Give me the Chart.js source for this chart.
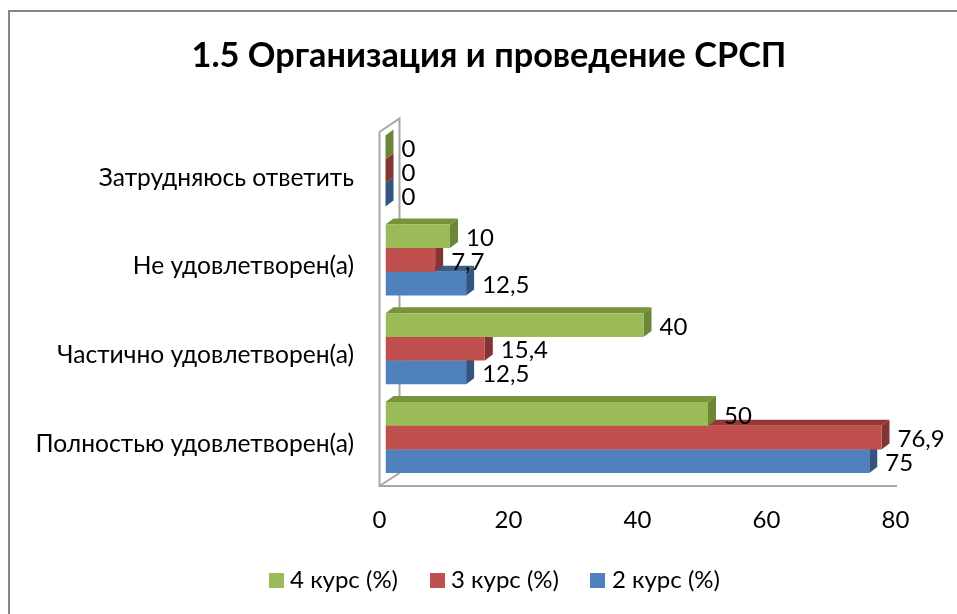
<!DOCTYPE html>
<html><head><meta charset="utf-8">
<style>html,body{margin:0;padding:0;background:#fff;overflow:hidden}canvas{display:block}</style>
<script src="https://cdn.jsdelivr.net/npm/chart.js@4"></script>
</head><body><canvas id="c" width="957" height="614"></canvas>
<script>
const categories = ['Затрудняюсь ответить','Не удовлетворен(а)','Частично удовлетворен(а)','Полностью удовлетворен(а)'];
const seriesNames = ['4 курс (%)','3 курс (%)','2 курс (%)'];
const course4 = [0,10,40,50];
const course3 = [0,7.7,15.4,76.9];
const course2 = [0,12.5,12.5,75];
const xTicks = [0,20,40,60,80];
const titleText = '1.5 Организация и проведение СРСП';
const colors = ['#9BBB59','#C0504D','#4F81BD'];
const tops = ['#77933C','#953735','#385D8A'];
const sides = ['#6C8638','#843432','#33557F'];
const FONT = 'Lato, Carlito, sans-serif';
const DX = 8, DY = -6;

const swatches = colors.map(c=>{
  const s = document.createElement('canvas'); s.width = 15; s.height = 15;
  const g = s.getContext('2d'); g.fillStyle = c; g.fillRect(0,0,15,15);
  return s;
});

const depth3d = {
  id:'depth3d',
  beforeDatasetsDraw(chart){
    const {ctx} = chart, x0 = chart.scales.x.getPixelForValue(0);
    const fx = x0-6, bx = x0+14, fb = 486, bb = 473;
    ctx.save();
    ctx.strokeStyle = '#A6A6A6'; ctx.lineWidth = 2;
    ctx.beginPath();
    ctx.moveTo(fx,132); ctx.lineTo(fx,fb); ctx.lineTo(897,fb);
    ctx.moveTo(fx,fb); ctx.lineTo(bx,bb);
    ctx.moveTo(bx,bb); ctx.lineTo(bx,118.5); ctx.lineTo(fx,132);
    ctx.stroke();
    ctx.restore();
  },
  beforeDatasetDraw(chart,args){
    const {ctx} = chart, i = args.index;
    ctx.save();
    chart.getDatasetMeta(i).data.forEach(b=>{
      const t = b.y-b.height/2, bt = b.y+b.height/2, l = b.base, r = b.x;
      ctx.fillStyle = tops[i];
      ctx.beginPath(); ctx.moveTo(l,t); ctx.lineTo(l+DX,t+DY); ctx.lineTo(r+DX,t+DY); ctx.lineTo(r,t); ctx.closePath(); ctx.fill();
      ctx.fillStyle = sides[i];
      ctx.beginPath(); ctx.moveTo(r,t); ctx.lineTo(r+DX,t+DY); ctx.lineTo(r+DX,bt+DY); ctx.lineTo(r,bt); ctx.closePath(); ctx.fill();
    });
    ctx.restore();
  },
  afterDatasetsDraw(chart){
    const {ctx} = chart;
    ctx.save();
    ctx.fillStyle = '#000'; ctx.font = '24px '+FONT; ctx.textAlign='left'; ctx.textBaseline='middle';
    chart.data.datasets.forEach((d,i)=>{
      chart.getDatasetMeta(i).data.forEach((b,j)=>{
        ctx.fillText(String(d.data[j]).replace('.',','), b.x+16, b.y+2);
      });
    });
    ctx.restore();
  },
  afterLayout(chart){
    const lg = chart.legend, w = lg.right-lg.left, h = lg.bottom-lg.top;
    lg.left = 497-w/2; lg.right = lg.left+w;
    lg.top = 531; lg.bottom = lg.top+h;
    const tb = chart.titleBlock, tw = tb.right-tb.left;
    tb.left = 489-tw/2; tb.right = tb.left+tw;
  }
};

const frame = {
  id:'frame',
  beforeDraw(chart){
    const {ctx} = chart;
    ctx.save(); ctx.strokeStyle='#868686'; ctx.lineWidth=2;
    ctx.beginPath(); ctx.moveTo(9,614); ctx.lineTo(9,11); ctx.lineTo(957,11); ctx.stroke();
    ctx.restore();
  }
};

new Chart(document.getElementById('c'),{
  type:'bar',
  data:{labels:categories,datasets:[
    {label:seriesNames[0],data:course4,backgroundColor:colors[0]},
    {label:seriesNames[1],data:course3,backgroundColor:colors[1]},
    {label:seriesNames[2],data:course2,backgroundColor:colors[2]}
  ]},
  plugins:[frame,depth3d],
  options:{
    indexAxis:'y',responsive:false,animation:false,
    layout:{padding:{left:0,right:55.5,top:0,bottom:0}},
    categoryPercentage:0.8,barPercentage:1,
    plugins:{
      tooltip:{enabled:false},
      title:{display:true,text:titleText,color:'#000',font:{family:FONT,size:34.3,weight:'bold'},padding:{top:35.5,bottom:50}},
      legend:{position:'bottom',labels:{usePointStyle:true,pointStyleWidth:4,boxHeight:15,padding:37,color:'#000',font:{family:FONT,size:24},
        generateLabels(chart){
          const items = Chart.defaults.plugins.legend.labels.generateLabels(chart);
          items.forEach((it,i)=>{it.pointStyle = swatches[i];});
          return items;
        }}}
    },
    scales:{
      x:{min:0,max:80,grid:{display:false},border:{display:false},
        afterBuildTicks(s){s.ticks=xTicks.map(v=>({value:v}));},
        afterFit(s){s.height=61;},
        ticks:{color:'#000',font:{family:FONT,size:24},labelOffset:-6,padding:16,maxRotation:0}},
      y:{grid:{display:false},border:{display:false},
        afterFit(s){s.width=385.5;},
        ticks:{color:'#000',font:{family:FONT,size:24.6},labelOffset:6.5,padding:23.5}}
    }
  }
});
</script></body></html>
